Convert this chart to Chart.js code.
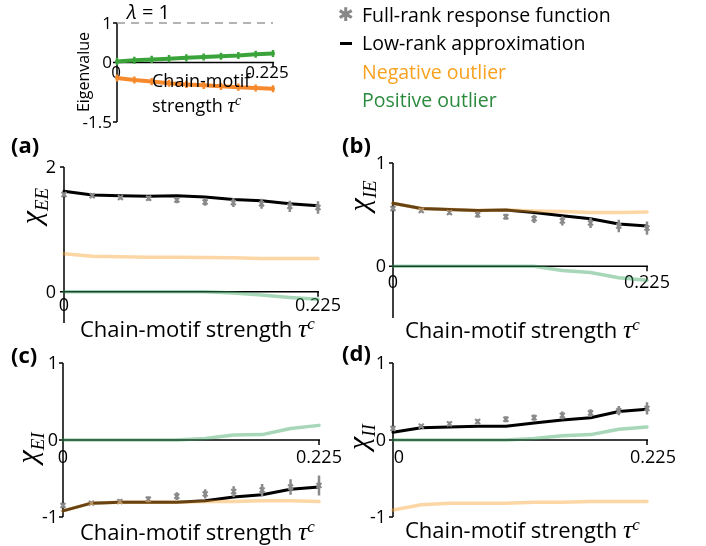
<!DOCTYPE html>
<html>
<head>
<meta charset="utf-8">
<script src="https://cdn.jsdelivr.net/npm/chart.js@4.4.1/dist/chart.umd.min.js"></script>
<style>
  html, body { margin: 0; padding: 0; background: #fff; }
  #page { position: relative; width: 706px; height: 546px; overflow: hidden; background: #fff; }
  canvas { position: absolute; left: 0; top: 0; }
  .t { position: absolute; white-space: nowrap; line-height: 1; font-family: "Open Sans", sans-serif; color: #000; }
  .m { font-family: "Liberation Serif", "DejaVu Serif", serif; font-style: italic; }
  .rot { transform: translate(-50%, -50%) rotate(-90deg); transform-origin: center; }
  .lab { font-weight: bold; font-size: 22px; }
</style>
</head>
<body>
<div id="page">
  <canvas id="cInset" width="706" height="546"></canvas>
  <canvas id="cA" width="706" height="546"></canvas>
  <canvas id="cB" width="706" height="546"></canvas>
  <canvas id="cC" width="706" height="546"></canvas>
  <canvas id="cD" width="706" height="546"></canvas>

  <!-- inset labels -->
  <div class="t" style="left:127px;top:2px;font-size:20px;"><i>λ</i> = 1</div>
  <div class="t rot" style="left:83px;top:72px;font-size:16px;">Eigenvalue</div>
  <div class="t" style="left:152px;top:71px;font-size:18px;">Chain-motif</div>
  <div class="t" style="left:152px;top:94px;font-size:18px;">strength <span class="m" style="font-size:21px">τ</span><sup class="m" style="font-size:14px">c</sup></div>

  <!-- legend -->
  <div class="t" style="left:338px;top:5px;font-size:19px;color:#888;font-family:'DejaVu Sans';">✱</div>
  <div style="position:absolute;left:340px;top:42px;width:12px;height:2.5px;background:#000;"></div>
  <div class="t" style="left:362px;top:5px;font-size:19.5px;">Full-rank response function</div>
  <div class="t" style="left:362px;top:33px;font-size:19.5px;">Low-rank approximation</div>
  <div class="t" style="left:362px;top:62px;font-size:19.5px;color:#f8a11e;">Negative outlier</div>
  <div class="t" style="left:362px;top:90px;font-size:19.5px;color:#2b8a3e;">Positive outlier</div>

  <!-- panel letters -->
  <div class="t lab" style="left:11px;top:133px;">(a)</div>
  <div class="t lab" style="left:342px;top:133px;">(b)</div>
  <div class="t lab" style="left:11px;top:343px;">(c)</div>
  <div class="t lab" style="left:342px;top:341px;">(d)</div>

  <!-- response axis titles -->
  <div class="t rot m" style="left:33px;top:206px;font-size:30px;">χ<sub style="font-size:19px">EE</sub></div>
  <div class="t rot m" style="left:361px;top:196px;font-size:30px;">χ<sub style="font-size:19px">IE</sub></div>
  <div class="t rot m" style="left:29px;top:448px;font-size:30px;">χ<sub style="font-size:19px">EI</sub></div>
  <div class="t rot m" style="left:360px;top:437px;font-size:30px;">χ<sub style="font-size:19px">II</sub></div>

  <!-- strength axis titles -->
  <div class="t" style="left:80px;top:315px;font-size:22px;">Chain-motif strength <span class="m" style="font-size:26px">τ</span><sup class="m" style="font-size:17px">c</sup></div>
  <div class="t" style="left:405px;top:316px;font-size:22px;">Chain-motif strength <span class="m" style="font-size:26px">τ</span><sup class="m" style="font-size:17px">c</sup></div>
  <div class="t" style="left:80px;top:518px;font-size:22px;">Chain-motif strength <span class="m" style="font-size:26px">τ</span><sup class="m" style="font-size:17px">c</sup></div>
  <div class="t" style="left:405px;top:516px;font-size:22px;">Chain-motif strength <span class="m" style="font-size:26px">τ</span><sup class="m" style="font-size:17px">c</sup></div>
</div>

<script>
// Chain-motif strength values shared by every panel
const tau = [0, 0.025, 0.05, 0.075, 0.1, 0.125, 0.15, 0.175, 0.2, 0.225];
const xTickLabels = ['0', '0.225'];

// Inset: outlier eigenvalues
const eigPositive    = [0.03, 0.06, 0.08, 0.10, 0.12, 0.14, 0.16, 0.18, 0.21, 0.23];
const eigNegative    = [-0.39, -0.44, -0.48, -0.52, -0.55, -0.575, -0.60, -0.62, -0.64, -0.66];
const eigPositiveErr = [0.09, 0.09, 0.09, 0.09, 0.09, 0.09, 0.09, 0.09, 0.09, 0.09];
const eigNegativeErr = [0.09, 0.09, 0.09, 0.09, 0.09, 0.09, 0.09, 0.09, 0.09, 0.09];
const lambdaLevel = 1;
const insetTicks = [1, 0, -1.5];
const insetTickLabels = ['1', '0', '-1.5'];

// (a) chi_EE
const fullEE = [1.56, 1.54, 1.51, 1.50, 1.47, 1.44, 1.43, 1.41, 1.37, 1.35];
const errEE  = [0.03, 0.03, 0.03, 0.04, 0.05, 0.06, 0.07, 0.08, 0.09, 0.10];
const lowEE  = [1.61, 1.55, 1.54, 1.53, 1.54, 1.52, 1.48, 1.46, 1.41, 1.38];
const negEE  = [0.61, 0.57, 0.56, 0.555, 0.555, 0.55, 0.545, 0.535, 0.535, 0.535];
const posEE  = [0, 0, 0, 0, 0, 0, -0.02, -0.05, -0.09, -0.12];
const ticksEE = [2, 0];

// (b) chi_IE
const fullIE = [0.56, 0.54, 0.52, 0.50, 0.48, 0.46, 0.44, 0.42, 0.39, 0.37];
const errIE  = [0.02, 0.02, 0.02, 0.03, 0.03, 0.04, 0.045, 0.05, 0.06, 0.065];
const lowIE  = [0.61, 0.56, 0.55, 0.54, 0.545, 0.52, 0.49, 0.46, 0.41, 0.39];
const negIE  = [0.61, 0.56, 0.55, 0.54, 0.545, 0.535, 0.53, 0.52, 0.52, 0.525];
const posIE  = [0, 0, 0, 0, 0, 0, -0.04, -0.06, -0.11, -0.135];
const ticksIE = [1, 0];

// (c) chi_EI
const fullEI = [-0.85, -0.82, -0.80, -0.77, -0.73, -0.70, -0.67, -0.65, -0.61, -0.59];
const errEI  = [0.03, 0.02, 0.03, 0.04, 0.05, 0.06, 0.07, 0.08, 0.10, 0.13];
const lowEI  = [-0.92, -0.82, -0.81, -0.81, -0.81, -0.79, -0.74, -0.71, -0.64, -0.61];
const negEI  = [-0.92, -0.82, -0.81, -0.81, -0.81, -0.80, -0.80, -0.79, -0.79, -0.80];
const posEI  = [0, 0, 0, 0, 0, 0.02, 0.065, 0.07, 0.15, 0.19];
const ticksEI = [1, 0, -1];

// (d) chi_II
const fullII = [0.15, 0.18, 0.21, 0.24, 0.27, 0.29, 0.32, 0.35, 0.38, 0.41];
const errII  = [0.03, 0.02, 0.03, 0.03, 0.04, 0.04, 0.05, 0.05, 0.06, 0.08];
const lowII  = [0.10, 0.16, 0.17, 0.18, 0.18, 0.22, 0.26, 0.29, 0.37, 0.40];
const negII  = [-0.91, -0.84, -0.82, -0.82, -0.82, -0.81, -0.81, -0.80, -0.80, -0.80];
const posII  = [0, 0, 0, 0, 0, 0.02, 0.055, 0.07, 0.14, 0.17];
const ticksII = [1, 0, -1];

const pts = ys => tau.map((t, i) => ({ x: t, y: ys[i] }));

const NEG_FAINT = 'rgba(247,160,40,0.42)';
const POS_FAINT = 'rgba(45,160,85,0.42)';
const FULL_GREY = '#8a8a8a';

// Axis lines, ticks and tick labels drawn from the chart scales
const framePlugin = {
  id: 'frame',
  beforeDatasetsDraw(chart, args, o) {
    const { ctx } = chart;
    const xs = chart.scales.x, ys = chart.scales.y;
    const x0 = xs.getPixelForValue(xs.min);
    const x1 = xs.getPixelForValue(xs.max);
    const y0 = ys.getPixelForValue(0);
    ctx.save();
    ctx.strokeStyle = '#000';
    ctx.lineWidth = 1.5;
    ctx.beginPath();
    ctx.moveTo(x0, ys.getPixelForValue(ys.max));
    ctx.lineTo(x0, ys.getPixelForValue(ys.min));
    ctx.moveTo(x0, y0);
    ctx.lineTo(x1 + 1, y0);
    ctx.moveTo(x1, y0);
    ctx.lineTo(x1, y0 + 5);
    o.yTicks.forEach(v => {
      const py = ys.getPixelForValue(v);
      ctx.moveTo(x0 - 4, py);
      ctx.lineTo(x0, py);
    });
    ctx.stroke();
    ctx.fillStyle = '#000';
    ctx.font = o.fontSize + 'px "Open Sans"';
    ctx.textAlign = 'right';
    ctx.textBaseline = 'middle';
    o.yTicks.forEach((v, i) => {
      ctx.fillText(o.yLabels[i], x0 - o.yLabelGap, ys.getPixelForValue(v) + 1);
    });
    ctx.textAlign = 'center';
    ctx.fillText(o.xLabels[0], x0 + o.zeroDx, y0 + o.xLabelDy);
    ctx.fillText(o.xLabels[1], x1 + o.endDx, y0 + o.xLabelDy);
    ctx.restore();
  }
};

// Vertical error bars drawn right after their dataset
const barsPlugin = {
  id: 'bars',
  afterDatasetDraw(chart, args, o) {
    (o.sets || []).forEach(s => {
      if (s.index !== args.index) return;
      const { ctx } = chart;
      const ys = chart.scales.y;
      const ds = chart.data.datasets[s.index];
      const meta = chart.getDatasetMeta(s.index);
      ctx.save();
      ctx.strokeStyle = s.color;
      ctx.lineWidth = s.width;
      ctx.beginPath();
      meta.data.forEach((el, i) => {
        const v = ds.data[i].y, e = s.errors[i];
        ctx.moveTo(el.x, ys.getPixelForValue(v + e));
        ctx.lineTo(el.x, ys.getPixelForValue(v - e));
      });
      ctx.stroke();
      ctx.restore();
    });
  }
};

function lineSet(data, color, width, extra) {
  return Object.assign({
    data: pts(data), borderColor: color, borderWidth: width,
    pointRadius: 0, tension: 0, fill: false, clip: false,
    borderCapStyle: 'round', borderJoinStyle: 'round'
  }, extra || {});
}

function makeChart(id, datasets, yMin, yMax, padding, frame, bars) {
  return new Chart(document.getElementById(id), {
    type: 'line',
    data: { datasets },
    options: {
      responsive: false,
      animation: false,
      events: [],
      layout: { padding },
      scales: {
        x: { type: 'linear', min: 0, max: 0.225, display: false },
        y: { type: 'linear', min: yMin, max: yMax, display: false }
      },
      plugins: {
        legend: { display: false },
        tooltip: { enabled: false },
        frame,
        bars: { sets: bars }
      }
    },
    plugins: [framePlugin, barsPlugin]
  });
}

// Inset: eigenvalues of the two outliers
makeChart('cInset', [
  lineSet(eigPositive, '#3aa43a', 4),
  lineSet(eigNegative, '#f5892c', 4),
  {
    data: [{ x: 0, y: lambdaLevel }, { x: 0.225, y: lambdaLevel }],
    borderColor: '#9a9a9a', borderWidth: 1.5, borderDash: [8, 6],
    pointRadius: 0, clip: false
  }
], -1.5, 1, { left: 117, right: 433, top: 23, bottom: 424 },
  { yTicks: insetTicks, yLabels: insetTickLabels, xLabels: xTickLabels, fontSize: 17,
    yLabelGap: 5, zeroDx: -1, endDx: -6, xLabelDy: 11 },
  [{ index: 0, errors: eigPositiveErr, color: '#3aa43a', width: 2.5 },
   { index: 1, errors: eigNegativeErr, color: '#f5892c', width: 2.5 }]);

function responsePanel(id, neg, pos, full, err, low, yMin, yMax, padding, yTicks, frameExtra) {
  const frame = Object.assign({
    yTicks, yLabels: yTicks.map(String), xLabels: xTickLabels, fontSize: 18,
    yLabelGap: 7, zeroDx: 0, endDx: 0, xLabelDy: 17
  }, frameExtra || {});
  return makeChart(id, [
    lineSet(neg, NEG_FAINT, 3.5),
    lineSet(pos, POS_FAINT, 3.5),
    {
      data: pts(full), showLine: false, pointStyle: 'crossRot', pointRadius: 3.5,
      pointBorderColor: FULL_GREY, pointBorderWidth: 2, borderColor: FULL_GREY, clip: false
    },
    lineSet(low, '#000', 3)
  ], yMin, yMax, padding, frame,
  [{ index: 2, errors: err, color: FULL_GREY, width: 2.5 }]);
}

responsePanel('cA', negEE, posEE, fullEE, errEE, lowEE, -0.5, 2,
  { left: 64, right: 388, top: 167, bottom: 223 }, ticksEE, { yLabelGap: 8, xLabelDy: 14 });
responsePanel('cB', negIE, posIE, fullIE, errIE, lowIE, -0.5, 1,
  { left: 393, right: 59, top: 163, bottom: 228 }, ticksIE);
responsePanel('cC', negEI, posEI, fullEI, errEI, lowEI, -1, 1,
  { left: 63, right: 387, top: 363, bottom: 29 }, ticksEI, { yLabelGap: 5, xLabelDy: 18 });
responsePanel('cD', negII, posII, fullII, errII, lowII, -1, 1,
  { left: 393, right: 59, top: 363, bottom: 29 }, ticksII, { zeroDx: 6, endDx: 6, xLabelDy: 18 });
</script>
</body>
</html>
